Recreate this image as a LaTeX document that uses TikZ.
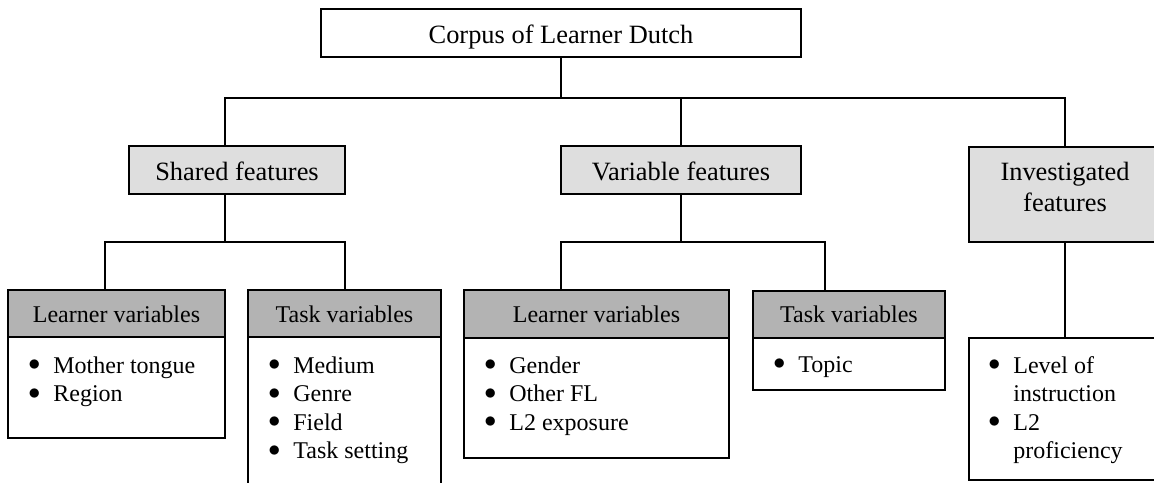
\documentclass[tikz,border=0pt]{standalone}
\usepackage{fontspec}
\setmainfont{Liberation Serif}
\usetikzlibrary{fit}
\definecolor{featgray}{HTML}{DEDEDE}
\definecolor{headgray}{HTML}{B3B3B3}
\newcommand{\dfont}{\fontsize{13.2}{15.2}\selectfont}
\newcommand{\lfont}{\fontsize{12}{14.3}\selectfont}
\newcommand{\blt}{\raisebox{1.2pt}{$\bullet$}}
\tikzset{
  box/.style={draw, line width=1pt, inner sep=0pt},
  featbox/.style={box, fill=featgray},
  headbox/.style={box, fill=headgray},
  bodybox/.style={box, fill=white},
  bigtext/.style={font=\dfont, anchor=base, inner sep=0pt},
  headtext/.style={font=\lfont, anchor=base, inner sep=0pt},
  listtext/.style={anchor=base west, inner sep=0pt, font=\lfont},
  conn/.style={line width=1pt},
}
\begin{document}
\begin{tikzpicture}[x=0.5pt, y=-0.5pt]
\useasboundingbox (0,0) rectangle (1154,482);
\clip (0,0) rectangle (1154,482);

% level 0
\node[box, fit={(321,9) (801,57)}] (top) {};
\node[bigtext] at (561,43) {Corpus of Learner Dutch};

% level 1
\node[featbox, fit={(129,146) (345,194)}] (shared) {};
\node[bigtext] at (237,180.5) {Shared features};
\node[featbox, fit={(561,146) (801,194)}] (variable) {};
\node[bigtext] at (681,180.5) {Variable features};
\node[featbox, fit={(969,147) (1161,242)}] (inv) {};
\node[bigtext] at (1065,180.7) {\begin{tabular}[t]{@{}c@{}}Investigated\\features\end{tabular}};

% level 2 headers
\node[headbox, fit={(8,290) (225,337)}] (l1h) {};
\node[headtext] at (116.5,322) {Learner variables};
\node[headbox, fit={(248,290) (441,337)}] (t1h) {};
\node[headtext] at (344.5,322) {Task variables};
\node[headbox, fit={(464,290) (729,338)}] (l2h) {};
\node[headtext] at (596.5,322.5) {Learner variables};
\node[headbox, fit={(753,291) (945,338)}] (t2h) {};
\node[headtext] at (849,322.5) {Task variables};

% bodies
\node[bodybox, fit={(8,337) (225,438)}] (l1b) {};
\node[listtext] at (28,373) {\begin{tabular}[t]{@{}p{12.5pt}@{}l@{}}\blt & Mother tongue\\ \blt & Region\end{tabular}};
\node[bodybox, fit={(248,337) (441,520)}] (t1b) {};
\node[listtext] at (268,373) {\begin{tabular}[t]{@{}p{12.5pt}@{}l@{}}\blt & Medium\\ \blt & Genre\\ \blt & Field\\ \blt & Task setting\end{tabular}};
\node[bodybox, fit={(464,338) (729,458)}] (l2b) {};
\node[listtext] at (484,373) {\begin{tabular}[t]{@{}p{12.5pt}@{}l@{}}\blt & Gender\\ \blt & Other FL\\ \blt & L2 exposure\end{tabular}};
\node[bodybox, fit={(753,338) (945,390)}] (t2b) {};
\node[listtext] at (773,372) {\begin{tabular}[t]{@{}p{12.5pt}@{}l@{}}\blt & Topic\end{tabular}};
\node[bodybox, fit={(969,338) (1161,480)}] (invl) {};
\node[listtext] at (988,373) {\begin{tabular}[t]{@{}p{12.5pt}@{}l@{}}\blt & Level of\\ & instruction\\ \blt & L2\\ & proficiency\end{tabular}};

% connectors
\coordinate (bA) at (225,98);
\coordinate (bC) at (1065,98);
\draw[conn] (top.south) -- (top.south |- bA);
\draw[conn] (bA |- shared.north) -- (bA) -- (bC) -- (bC |- inv.north);
\draw[conn] (variable.north |- bA) -- (variable.north);

\coordinate (sL) at (105,242);
\coordinate (sR) at (345,242);
\coordinate (sM) at (225,242);
\draw[conn] (sM |- shared.south) -- (sM);
\draw[conn] (sL |- l1h.north) -- (sL) -- (sR) -- (sR |- t1h.north);

\coordinate (vL) at (561,242);
\coordinate (vR) at (825,242);
\draw[conn] (variable.south) -- (variable.south |- vL);
\draw[conn] (vL |- l2h.north) -- (vL) -- (vR) -- (vR |- t2h.north);

\draw[conn] (inv.south) -- (invl.north);
\end{tikzpicture}
\end{document}
